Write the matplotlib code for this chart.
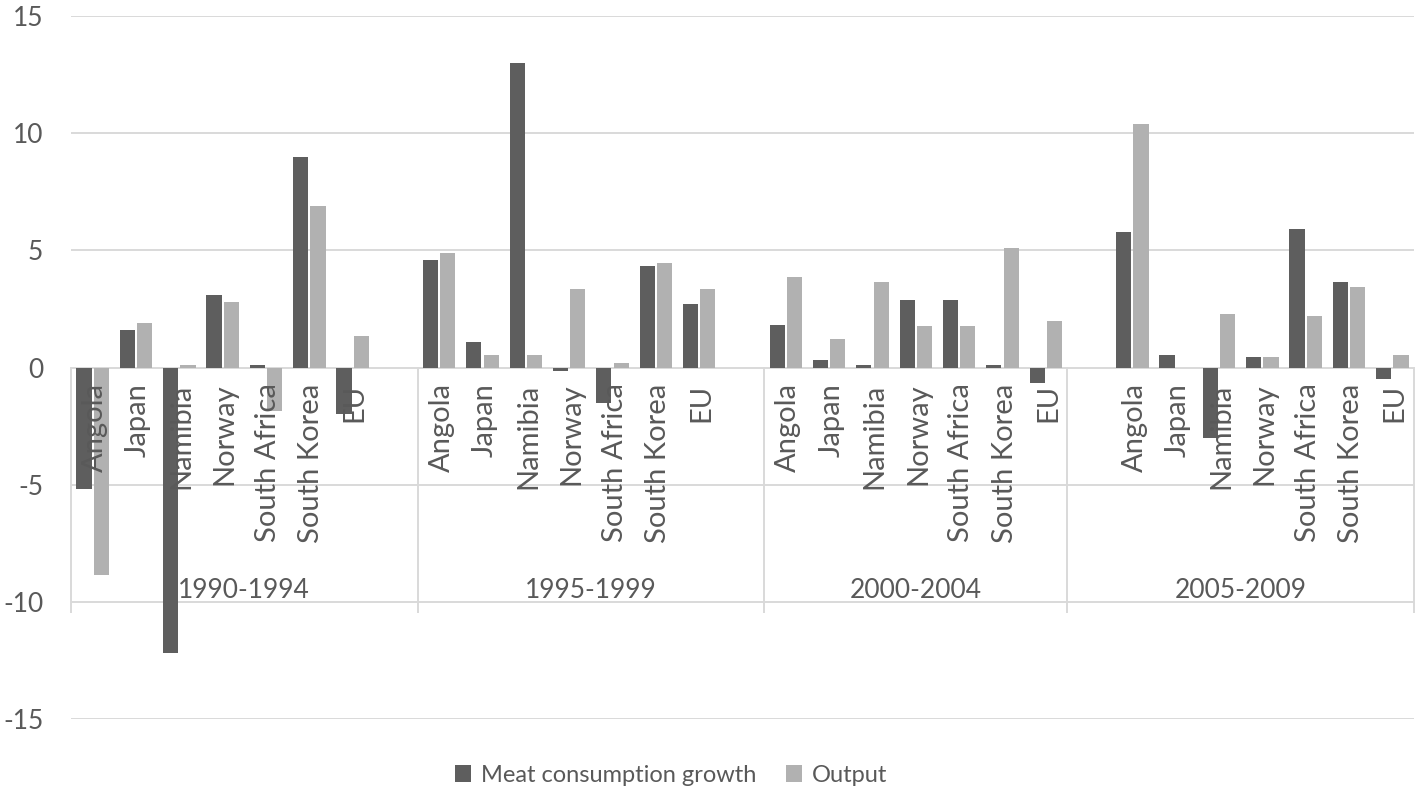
import matplotlib
matplotlib.use("Agg")
import matplotlib.pyplot as plt
from matplotlib.patches import Patch

periods = ['1990-1994', '1995-1999', '2000-2004', '2005-2009']
countries = ['Angola', 'Japan', 'Namibia', 'Norway', 'South Africa', 'South Korea', 'EU']

meat_1990 = [-5.2, 1.6, -12.2, 3.1, 0.1, 9.0, -2.0]
meat_1995 = [4.6, 1.1, 13.0, -0.15, -1.5, 4.35, 2.7]
meat_2000 = [1.8, 0.3, 0.1, 2.9, 2.9, 0.1, -0.65]
meat_2005 = [5.8, 0.55, -3.0, 0.45, 5.9, 3.65, -0.5]

output_1990 = [-8.85, 1.9, 0.1, 2.8, -1.85, 6.9, 1.35]
output_1995 = [4.9, 0.55, 0.55, 3.35, 0.2, 4.45, 3.35]
output_2000 = [3.85, 1.2, 3.65, 1.75, 1.75, 5.1, 2.0]
output_2005 = [10.4, 0.0, 2.3, 0.45, 2.2, 3.45, 0.55]

meat = [meat_1990, meat_1995, meat_2000, meat_2005]
output = [output_1990, output_1995, output_2000, output_2005]

# category slots per period (some periods contain an empty slot)
group_slots = [8, 8, 7, 8]
first_offset = [0, 0, 0, 1]

dark = '#5e5e5e'
light = '#b1b1b1'
txt = '#595959'
grid = '#d9d9d9'
FONT = 'Lato'

fig = plt.figure(figsize=(14.18, 7.94), dpi=100)
ax = fig.add_axes([71/1418, 1-719/794, (1414-71)/1418, (719-16)/794])

total = sum(group_slots)
ax.set_xlim(0, total)
ax.set_ylim(-15, 15)
ax.set_yticks([-15, -10, -5, 0, 5, 10, 15])
ax.set_yticklabels(['-15', '-10', '-5', '0', '5', '10', '15'])
ax.tick_params(axis='y', length=0, pad=20, labelsize=19, labelcolor=txt)
for lab in ax.get_yticklabels():
    lab.set_fontfamily(FONT)
ax.set_xticks([])
for s in ax.spines.values():
    s.set_visible(False)
ax.yaxis.grid(True, color=grid, linewidth=1.4)
ax.set_axisbelow(True)

bw = 0.35
off = 0.2
start = 0
for g, per in enumerate(periods):
    for i, c in enumerate(countries):
        xc = start + first_offset[g] + i + 0.5
        ax.bar(xc - off, meat[g][i], width=bw, color=dark, zorder=3)
        ax.bar(xc + off, output[g][i], width=bw, color=light, zorder=3)
        ax.text(xc + 0.05, -0.68, c, rotation=90, ha='center', va='top',
                fontsize=21, color=txt, family=FONT, zorder=4)
    ax.text(start + group_slots[g] / 2, -9.5, per, ha='center', va='center',
            fontsize=19, color=txt, family=FONT, zorder=4)
    start += group_slots[g]

# group separators of the category axis
b = 0
bounds = [0]
for n in group_slots:
    b += n
    bounds.append(b)
for xb in bounds:
    ax.plot([xb, xb], [0, -10.45], color=grid, linewidth=1.4, clip_on=False, zorder=2)

handles = [Patch(facecolor=dark, label='Meat consumption growth'),
           Patch(facecolor=light, label='Output')]
leg = fig.legend(handles=handles, loc='center', bbox_to_anchor=(671/1418, 1-775/794),
                 ncol=2, frameon=False, prop={'family': FONT, 'size': 17},
                 handlelength=0.7, handleheight=0.7, columnspacing=1.25, handletextpad=0.4)
for t in leg.get_texts():
    t.set_color(txt)

fig.savefig('out.png', dpi=100)
